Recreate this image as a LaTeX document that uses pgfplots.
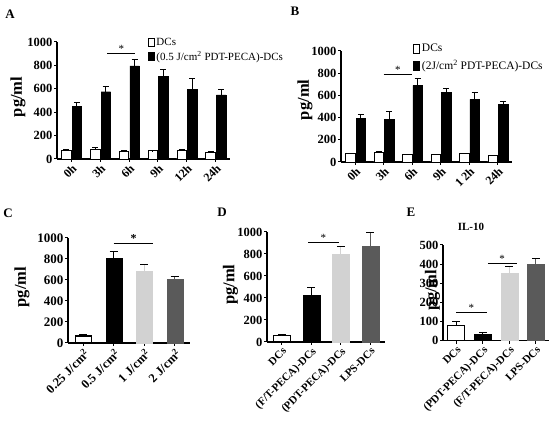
\documentclass[border=0pt]{standalone}
\usepackage{pgfplots}
\pgfplotsset{compat=1.18}
\usepackage{fontspec}
\setmainfont{Liberation Serif}
\definecolor{lgray}{RGB}{210,210,210}
\definecolor{dgray}{RGB}{90,90,90}
\newcommand{\fs}[1]{\fontsize{#1}{#1}\selectfont}
\pgfplotsset{
  panel/.style={
    scale only axis, anchor=south west, clip=false,
    axis x line*=bottom, axis y line*=left,
    axis line style={line width=1.1pt, -},
    every tick/.style={black, line width=1pt},
    tick align=outside, major tick length=3pt,
    ymin=0,
    /pgf/number format/assume math mode=true,
    /pgf/number format/1000 sep={},
    yticklabel style={font=\bfseries\fs{12.5}, inner sep=1.5pt},
    xticklabel style={font=\bfseries\fs{12}, rotate=45, anchor=north east, inner sep=1pt},
    ylabel={pg/ml},
    ylabel style={font=\bfseries\fs{16.5}, anchor=center},
    legend cell align=left,
  },
  eb/.style={
    error bars/y dir=plus, error bars/y explicit,
    error bars/error bar style={line width=1pt},
    error bars/error mark options={rotate=90, mark size=#1, line width=1pt},
  },
  eb/.default=3pt,
}
\begin{document}
\begin{tikzpicture}[x=1pt,y=1pt]
\useasboundingbox (0,0) rectangle (550,438);
% panel letters
\node[font=\bfseries\fs{13}] at (10,424) {A};
\node[font=\bfseries\fs{13}] at (295,427) {B};
\node[font=\bfseries\fs{13}] at (8,225) {C};
\node[font=\bfseries\fs{13}] at (222,226) {D};
\node[font=\bfseries\fs{13}] at (411,226) {E};

% ---------------- A ----------------
\begin{axis}[panel, at={(57pt,279pt)}, width=173pt, height=117pt,
  ybar, ymax=1000, ytick={0,200,...,1000},
  xmin=-0.5, xmax=5.5, xtick={0,...,5}, xticklabels={0h,3h,6h,9h,12h,24h},
  ylabel style={at={(axis description cs:-0.225,0.53)}},
  legend style={at={(axis description cs:0.526,1.051)}, anchor=north west, draw=none, fill=none,
    font=\fs{11}, inner sep=0pt, row sep=0pt, /tikz/every even column/.append style={column sep=2pt}},
  legend image code/.code={\draw[#1, line width=0.8pt] (0pt,-4pt) rectangle (5.5pt,4pt);},
]
\addplot[draw=black, fill=white, line width=0.9pt, bar width=9.5pt, bar shift=-5pt, eb] coordinates {
 (0,75) +- (0,5) (1,85) +- (0,15) (2,65) +- (0,4) (3,70) +- (0,2) (4,75) +- (0,5) (5,60) +- (0,4)};
\addlegendentry{DCs}
\addplot[draw=black, fill=black, bar width=9.5pt, bar shift=5.5pt, eb] coordinates {
 (0,448) +- (0,34) (1,575) +- (0,43) (2,796) +- (0,57) (3,708) +- (0,60) (4,595) +- (0,95) (5,547) +- (0,48)};
\addlegendentry{(0.5 J/cm\textsuperscript{2} PDT-PECA)-DCs}
\draw[line width=0.8pt] (axis cs:1.24,903) -- (axis cs:2.22,903) node[midway, above, inner sep=0.5pt, font=\fs{11}] {*};
\end{axis}

% ---------------- B ----------------
\begin{axis}[panel, at={(341pt,276pt)}, width=171pt, height=111pt,
  ybar, ymax=1000, ytick={0,200,...,1000},
  xmin=-0.5, xmax=5.5, xtick={0,...,5}, xticklabels={0h,3h,6h,9h,1 2h,24h},
  ylabel style={at={(axis description cs:-0.21,0.56)}},
  legend style={at={(axis description cs:0.421,1.081)}, anchor=north west, draw=none, fill=none,
    font=\fs{11.5}, inner sep=0pt, row sep=3pt, /tikz/every even column/.append style={column sep=2pt}},
  legend image code/.code={\draw[#1, line width=0.8pt] (0pt,-4.5pt) rectangle (6pt,4.5pt);},
]
\addplot[draw=black, fill=white, line width=0.9pt, bar width=9.5pt, bar shift=-5pt, eb] coordinates {
 (0,75) +- (0,5) (1,85) +- (0,12) (2,65) +- (0,5) (3,68) +- (0,2) (4,73) +- (0,5) (5,58) +- (0,4)};
\addlegendentry{DCs}
\addplot[draw=black, fill=black, bar width=9.5pt, bar shift=5.5pt, eb] coordinates {
 (0,394) +- (0,36) (1,385) +- (0,69) (2,690) +- (0,62) (3,630) +- (0,33) (4,564) +- (0,60) (5,519) +- (0,30)};
\addlegendentry{(2J/cm\textsuperscript{2} PDT-PECA)-DCs}
\draw[line width=0.8pt] (axis cs:1.0,793) -- (axis cs:2.0,793) node[midway, above, inner sep=0.5pt, font=\fs{11}] {*};
\end{axis}

% ---------------- C ----------------
\begin{axis}[panel, at={(68pt,95pt)}, width=122pt, height=105pt,
  ybar, bar width=16pt, ymax=1000, ytick={0,200,...,1000},
  yticklabel style={font=\bfseries\fs{13}},
  xticklabel style={font=\bfseries\fs{12.5}},
  xmin=-0.5, xmax=3.5, xtick={0,...,3},
  xticklabels={0.25 J/cm\textsuperscript{2},0.5 J/cm\textsuperscript{2},1 J/cm\textsuperscript{2},2 J/cm\textsuperscript{2}},
  ylabel style={at={(axis description cs:-0.377,0.533)}},
]
\addplot[draw=black, fill=white, line width=1.3pt, bar shift=0pt, eb=4pt] coordinates {(0,67) +- (0,13)};
\addplot[draw=black, fill=black, bar shift=0pt, eb=4pt] coordinates {(1,803) +- (0,64)};
\addplot[draw=lgray, fill=lgray, bar shift=0pt, eb=4pt] coordinates {(2,686) +- (0,63)};
\addplot[draw=dgray, fill=dgray, bar shift=0pt, eb=4pt] coordinates {(3,603) +- (0,32)};
\draw[line width=1.3pt] (axis cs:1.0,950) -- (axis cs:2.3,950) node[midway, above, inner sep=0.5pt, font=\bfseries\fs{12}] {*};
\end{axis}

% ---------------- D ----------------
\begin{axis}[panel, at={(267pt,96pt)}, width=118pt, height=110pt,
  ybar, bar width=17pt, ymax=1000, ytick={0,200,...,1000},
  xticklabel style={font=\bfseries\fs{11}},
  xmin=-0.5, xmax=3.5, xtick={0,...,3},
  xticklabels={DCs,(F/T-PECA)-DCs,(PDT-PECA)-DCs,LPS-DCs},
  ylabel style={at={(axis description cs:-0.31,0.52)}},
]
\addplot[draw=black, fill=white, line width=1pt, bar shift=0pt, eb=4pt] coordinates {(0,61) +- (0,9)};
\addplot[draw=black, fill=black, bar shift=0pt, eb=4pt] coordinates {(1,427) +- (0,70)};
\addplot[draw=lgray, fill=lgray, bar shift=0pt, eb=4pt] coordinates {(2,799) +- (0,70)};
\addplot[draw=dgray, fill=dgray, bar shift=0pt, eb=4pt] coordinates {(3,869) +- (0,122)};
\draw[line width=0.8pt] (axis cs:0.89,906) -- (axis cs:1.94,906) node[midway, above, inner sep=0.5pt, font=\fs{11}] {*};
\end{axis}

% ---------------- E ----------------
\begin{axis}[panel, at={(443pt,97.3pt)}, width=106pt, height=95.7pt,
  ybar, bar width=17pt, ymax=500, ytick={0,100,...,500},
  xticklabel style={font=\bfseries\fs{11}},
  xmin=-0.5, xmax=3.5, xtick={0,...,3},
  xticklabels={DCs,(PDT-PECA)-DCs,(F/T-PECA)-DCs,LPS-DCs},
  ylabel style={at={(axis description cs:-0.1,0.53)}},
  title={IL-10}, title style={at={(axis description cs:0.264,1.125)}, anchor=center, font=\bfseries\fs{11}},
]
\addplot[draw=black, fill=white, line width=1pt, bar shift=0pt, eb=4pt] coordinates {(0,77) +- (0,21)};
\addplot[draw=black, fill=black, bar shift=0pt, eb=4pt] coordinates {(1,35) +- (0,7)};
\addplot[draw=lgray, fill=lgray, bar shift=0pt, eb=4pt] coordinates {(2,352) +- (0,35)};
\addplot[draw=dgray, fill=dgray, bar shift=0pt, eb=4pt] coordinates {(3,399) +- (0,28)};
\draw[line width=0.8pt] (axis cs:0.0,147) -- (axis cs:1.15,147) node[midway, above, inner sep=0.5pt, font=\fs{11}] {*};
\draw[line width=0.8pt] (axis cs:1.19,405) -- (axis cs:2.28,405) node[midway, above, inner sep=0.5pt, font=\fs{11}] {*};
\end{axis}
\end{tikzpicture}
\end{document}
